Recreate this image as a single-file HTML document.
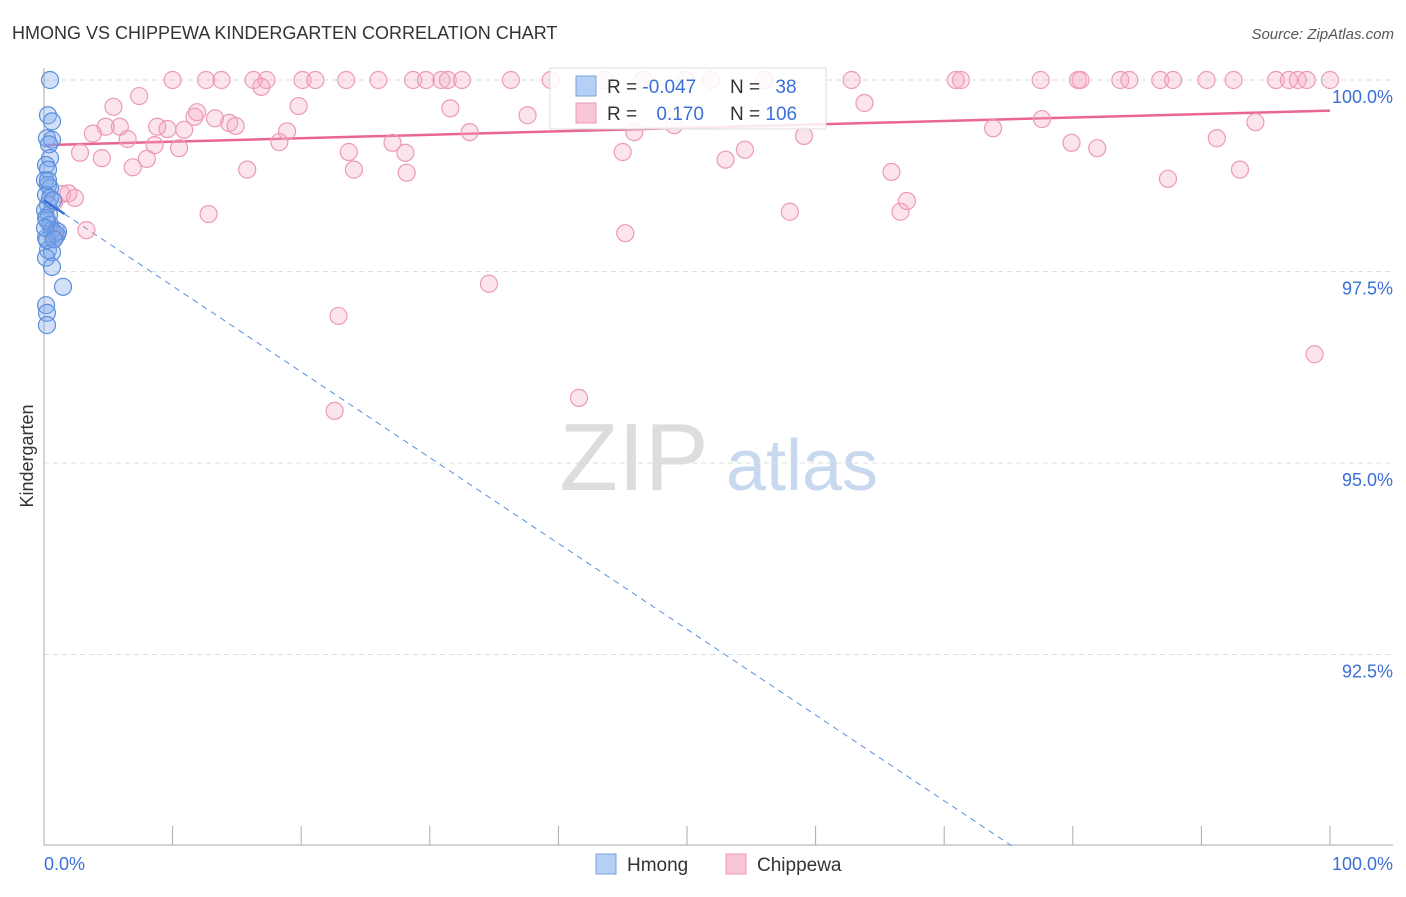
<!DOCTYPE html>
<html><head><meta charset="utf-8"><style>
body{margin:0;background:#fff;font-family:"Liberation Sans",sans-serif;}
svg text{font-family:"Liberation Sans",sans-serif;}
</style></head><body>
<svg id="chart" width="1406" height="892" viewBox="0 0 1406 892" xmlns="http://www.w3.org/2000/svg">
<text x="12" y="39" font-size="18" fill="#333">HMONG VS CHIPPEWA KINDERGARTEN CORRELATION CHART</text>
<text x="1394" y="39" font-size="15" fill="#555" font-style="italic" text-anchor="end">Source: ZipAtlas.com</text>
<text x="33" y="456" font-size="18" fill="#333" text-anchor="middle" transform="rotate(-90 33 456)">Kindergarten</text>
<g>
<text x="634" y="490" font-size="96" fill="#ddd" font-family="Liberation Serif" text-anchor="middle" font-family="Liberation Serif,serif">ZIP</text>
<text x="802" y="490" font-size="72" fill="#c8d8ef" text-anchor="middle">atlas</text>
</g>
<g id="grid"></g>
<g id="axes"></g>
<g id="lines"></g>
<g id="pts"></g>
<g>
<rect x="550" y="68" width="276" height="61" fill="#fff" fill-opacity="0.85" stroke="#ddd"/>
<rect x="576" y="76" width="20" height="20" fill="#b6d0f5" stroke="#7aa3e0"/>
<rect x="576" y="103" width="20" height="20" fill="#f8c6d6" stroke="#ec9ab6"/>
<text x="607" y="93" font-size="19" fill="#333">R = <tspan fill="#3a6fd8">-0.047</tspan></text>
<text x="730" y="93" font-size="19" fill="#333">N = <tspan fill="#3a6fd8" dx="10">38</tspan></text>
<text x="607" y="120" font-size="19" fill="#333">R = <tspan fill="#3a6fd8" dx="14">0.170</tspan></text>
<text x="730" y="120" font-size="19" fill="#333">N = <tspan fill="#3a6fd8">106</tspan></text>
</g>
<g>
<rect x="596" y="854" width="20" height="20" fill="#b6d0f5" stroke="#7aa3e0"/>
<text x="627" y="871" font-size="19" fill="#333">Hmong</text>
<rect x="726" y="854" width="20" height="20" fill="#f8c6d6" stroke="#ec9ab6"/>
<text x="757" y="871" font-size="19" fill="#333">Chippewa</text>
</g>
</svg>
<script>
const yTicks=[100,97.5,95,92.5];
const yTickLabels=["100.0%","97.5%","95.0%","92.5%"];
const xTicks=[0,10,20,30,40,50,60,70,80,90,100];
const xTickLabels=["0.0%","100.0%"];
const chippewaX=[10,12.6,13.8,16.3,17.3,20.1,21.1,23.5,26,28.7,29.7,30.9,31.4,32.5,36.3,39.4,43.6,46.6,49.9,51.9,56,62.8,70.9,71.3,77.5,80.4,80.6,83.7,84.4,86.8,87.8,90.4,92.5,95.8,96.8,97.5,98.2,100,
5.4,7.4,16.9,19.8,63.8,31.6,37.6,11.7,11.9,13.3,14.4,14.9,18.9,10.9,9.6,8.8,5.9,4.8,3.8,6.5,8.6,10.5,2.8,4.5,8.0,6.9,18.3,23.7,27.1,28.1,33.1,45.9,49.0,45.0,54.5,53.0,59.1,73.8,77.6,91.2,94.2,79.9,81.9,15.8,24.1,28.2,65.9,87.4,93.0,58.0,66.6,67.1,12.8,1.4,1.9,2.4,0.8,3.3,0.9,0.9,0.7,45.2,34.6,22.9,41.6,22.6,98.8];
const chippewaY=[100,100,100,100,100,100,100,100,100,100,100,100,100,100,100,100,100,100,100,100,100,100,100,100,100,100,100,100,100,100,100,100,100,100,100,100,100,100,
99.65,99.79,99.91,99.66,99.70,99.63,99.54,99.52,99.58,99.50,99.44,99.40,99.33,99.35,99.36,99.39,99.39,99.39,99.30,99.23,99.15,99.11,99.05,98.98,98.97,98.86,99.19,99.06,99.18,99.05,99.32,99.32,99.41,99.06,99.09,98.96,99.27,99.37,99.49,99.24,99.45,99.18,99.11,98.83,98.83,98.79,98.80,98.71,98.83,98.28,98.28,98.42,98.25,98.51,98.52,98.46,98.41,98.04,97.95,98.04,98.00,98.00,97.34,96.92,95.85,95.68,96.42];
const hmongX=[0.47,0.31,0.62,0.23,0.62,0.39,0.47,0.16,0.31,0.08,0.31,0.47,0.16,0.31,0.08,0.39,0.23,0.47,0.62,0.86,1.0,0.16,0.31,0.62,0.16,0.62,1.48,0.16,0.23,0.23,0.23,0.47,0.16,0.7,1.09,0.08,0.31,0.78];
const hmongY=[100,99.54,99.46,99.24,99.22,99.16,98.98,98.89,98.83,98.69,98.63,98.59,98.50,98.37,98.30,98.24,98.17,98.11,98.04,98.0,97.98,97.94,97.78,97.75,97.68,97.56,97.30,97.06,96.96,96.80,97.91,98.46,98.20,98.43,98.02,98.07,98.69,97.92];
const chippewaTrend=[99.15,99.6];
const hmongTrend=[98.43,-0.112];
const NS="http://www.w3.org/2000/svg";
const X0=44,X1=1330,YTOP=80,PXPER=76.6;
const sx=v=>X0+(X1-X0)*v/100;
const sy=v=>YTOP+(100-v)*PXPER;
function mk(t,a,p){const e=document.createElementNS(NS,t);for(const k in a)e.setAttribute(k,a[k]);p.appendChild(e);return e;}
const grid=document.getElementById('grid'),axes=document.getElementById('axes'),lines=document.getElementById('lines'),pts=document.getElementById('pts');
yTicks.forEach((v,i)=>{
 const l=mk('line',{x1:X0,x2:1393,y1:sy(v),y2:sy(v),stroke:'#ddd','stroke-dasharray':'5,4'},grid);
 
 
 const t=mk('text',{x:1393,y:sy(v)+23,'font-size':18,fill:'#3a6fd8','text-anchor':'end'},axes);
 t.textContent=yTickLabels[i];
 
 
});
const ax=mk('line',{x1:X0,x2:X0,y1:68,y2:845,stroke:'#aaa'},axes);


const bx=mk('line',{x1:X0,x2:1393,y1:845,y2:845,stroke:'#aaa'},axes);


xTicks.forEach(v=>{
 const l=mk('line',{x1:sx(v),x2:sx(v),y1:826,y2:845,stroke:'#aaa'},axes);
 
 
});
const xl0=mk('text',{x:X0,y:870,'font-size':18,fill:'#3a6fd8'},axes);
xl0.textContent=xTickLabels[0];


const xl1=mk('text',{x:1393,y:870,'font-size':18,fill:'#3a6fd8','text-anchor':'end'},axes);
xl1.textContent=xTickLabels[1];


chippewaX.forEach((x,i)=>{
 const c=mk('circle',{cx:sx(x),cy:sy(chippewaY[i]),r:8.5,fill:'#f4a6c0','fill-opacity':0.3,stroke:'#ec9ab6','stroke-width':1.2},pts);
 
 
});
hmongX.forEach((x,i)=>{
 const c=mk('circle',{cx:sx(x),cy:sy(hmongY[i]),r:8.5,fill:'#7ea8ea','fill-opacity':0.35,stroke:'#5b8fdd','stroke-width':1.2},pts);
 
 
});
const pl=mk('line',{x1:sx(0),y1:sy(chippewaTrend[0]),x2:sx(100),y2:sy(chippewaTrend[1]),stroke:'#e8668f','stroke-width':2.5},lines);


const hEnd=(90-hmongTrend[0])/hmongTrend[1];
const hd=mk('line',{x1:sx(1.6),y1:sy(hmongTrend[0]+hmongTrend[1]*1.6),x2:sx(hEnd),y2:sy(90),stroke:'#5b8fdd','stroke-width':1,'stroke-dasharray':'6,5'},lines);


const hs=mk('line',{x1:sx(0),y1:sy(hmongTrend[0]),x2:sx(1.6),y2:sy(hmongTrend[0]+hmongTrend[1]*1.6),stroke:'#3a6fd8','stroke-width':2.5},pts);


</script>
</body></html>
